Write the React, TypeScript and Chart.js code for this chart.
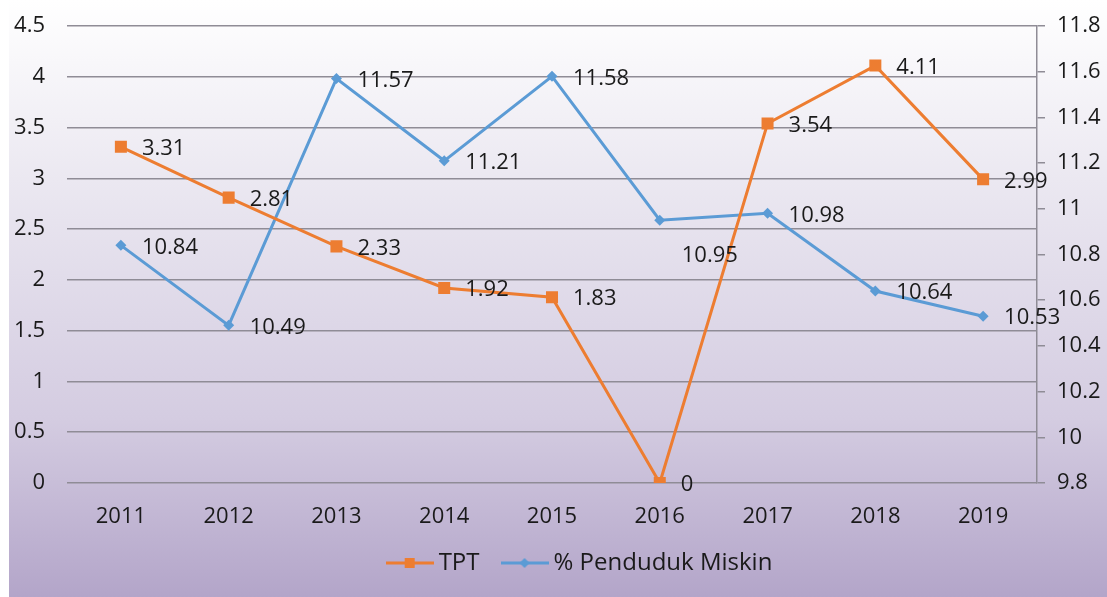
import React, { useEffect, useRef } from "react";
import { Chart, registerables } from "chart.js";

Chart.register(...registerables);

const years = ["2011", "2012", "2013", "2014", "2015", "2016", "2017", "2018", "2019"];
const tptValues = [3.31, 2.81, 2.33, 1.92, 1.83, 0, 3.54, 4.11, 2.99];
const miskinValues = [10.84, 10.49, 11.57, 11.21, 11.58, 10.95, 10.98, 10.64, 10.53];
const tptLabels = ["3.31", "2.81", "2.33", "1.92", "1.83", "0", "3.54", "4.11", "2.99"];
const miskinLabels = ["10.84", "10.49", "11.57", "11.21", "11.58", "10.95", "10.98", "10.64", "10.53"];
const seriesNames = ["TPT", "% Penduduk Miskin"];

const ORANGE = "#ED7D31";
const BLUE = "#5B9BD5";
const TEXT = "#1a1a1a";
const GRID = "#8f8c96";
const FONT = "'Open Sans', 'Noto Sans', sans-serif";

function legendImage(color: string, kind: "square" | "diamond"): HTMLCanvasElement {
  const c = document.createElement("canvas");
  c.width = 48;
  c.height = 14;
  const ctx = c.getContext("2d")!;
  ctx.strokeStyle = color;
  ctx.lineWidth = 3;
  ctx.beginPath();
  ctx.moveTo(0, 7);
  ctx.lineTo(48, 7);
  ctx.stroke();
  ctx.fillStyle = color;
  if (kind === "square") {
    ctx.fillRect(19, 2, 10, 10);
  } else {
    ctx.beginPath();
    ctx.moveTo(24, 2);
    ctx.lineTo(29, 7);
    ctx.lineTo(24, 12);
    ctx.lineTo(19, 7);
    ctx.closePath();
    ctx.fill();
  }
  return c;
}

const bgPlugin = {
  id: "bgGradient",
  beforeDraw(chart: any) {
    const { ctx, width, height } = chart;
    const g = ctx.createLinearGradient(0, 0, 0, height);
    g.addColorStop(0, "#ffffff");
    g.addColorStop(0.3, "#ebe8f1");
    g.addColorStop(0.7, "#d4cce1");
    g.addColorStop(1, "#b3a5c9");
    ctx.save();
    ctx.fillStyle = g;
    ctx.fillRect(0, 0, width, height);
    ctx.restore();
  },
};

// label offsets (dx, dy) relative to the point
const tptOffsets = tptValues.map(() => [21, 2]);
const miskinOffsets = miskinValues.map((_, i) => (i === 5 ? [22, 36] : [21, 2]));

const labelPlugin = {
  id: "pointLabels",
  afterDatasetsDraw(chart: any) {
    const { ctx } = chart;
    const sets = [
      { labels: tptLabels, offsets: tptOffsets },
      { labels: miskinLabels, offsets: miskinOffsets },
    ];
    ctx.save();
    ctx.font = `22px ${FONT}`;
    ctx.fillStyle = TEXT;
    ctx.textAlign = "left";
    ctx.textBaseline = "middle";
    sets.forEach((s, di) => {
      const meta = chart.getDatasetMeta(di);
      meta.data.forEach((pt: any, i: number) => {
        const [dx, dy] = s.offsets[i];
        ctx.fillText(s.labels[i], pt.x + dx, pt.y + dy);
      });
    });
    ctx.restore();
  },
};

export default function App() {
  const ref = useRef<HTMLCanvasElement>(null);
  useEffect(() => {
    const imgs = [legendImage(ORANGE, "square"), legendImage(BLUE, "diamond")];
    const legendPlugin = {
      id: "customLegend",
      afterDraw(chart: any) {
        const { ctx } = chart;
        ctx.save();
        ctx.font = `24px ${FONT}`;
        ctx.fillStyle = TEXT;
        ctx.textBaseline = "middle";
        ctx.textAlign = "left";
        const gapImg = 5;
        const gapItem = 21;
        const widths = seriesNames.map((n) => 48 + gapImg + ctx.measureText(n).width);
        const total = widths.reduce((a, b) => a + b, 0) + gapItem * (seriesNames.length - 1);
        const centerX = 570;
        const cy = chart.chartArea.bottom + 80;
        let x = centerX - total / 2;
        seriesNames.forEach((n, i) => {
          ctx.drawImage(imgs[i], x, cy - 7);
          ctx.fillText(n, x + 48 + gapImg, cy);
          x += widths[i] + gapItem;
        });
        ctx.restore();
      },
    };
    const chart = new Chart(ref.current!, {
      type: "line",
      data: {
        labels: years,
        datasets: [
          {
            label: seriesNames[0],
            data: tptValues,
            borderColor: ORANGE,
            backgroundColor: ORANGE,
            borderWidth: 3,
            pointStyle: "rect",
            pointRadius: 8.5,
            pointBorderWidth: 0,
            yAxisID: "y",
            tension: 0,
          },
          {
            label: seriesNames[1],
            data: miskinValues,
            borderColor: BLUE,
            backgroundColor: BLUE,
            borderWidth: 3,
            pointStyle: "rectRot",
            pointRadius: 5.5,
            pointBorderWidth: 0,
            yAxisID: "y1",
            tension: 0,
          },
        ],
      },
      options: {
        animation: false,
        responsive: true,
        maintainAspectRatio: false,
        layout: { padding: { top: 26, bottom: 66, left: 0, right: 0 } },
        plugins: {
          tooltip: { enabled: false },
          legend: { display: false },
        },
        scales: {
          x: {
            offset: true,
            grid: { display: false, drawTicks: false },
            border: { display: false },
            ticks: { color: TEXT, font: { family: FONT, size: 22 }, padding: 21 },
            afterFit: (s: any) => {
              s.height = 48;
            },
          },
          y: {
            position: "left",
            min: 0,
            max: 4.5,
            ticks: {
              stepSize: 0.5,
              color: TEXT,
              padding: 8,
              font: { family: FONT, size: 22 },
              callback: (v: any) => String(v),
            },
            grid: { color: GRID, lineWidth: 1.5, drawTicks: true, tickLength: 14, tickColor: "rgba(0,0,0,0)" },
            border: { display: false },
            afterFit: (s: any) => {
              s.width = 58;
            },
          },
          y1: {
            position: "right",
            min: 9.8,
            max: 11.8,
            ticks: {
              stepSize: 0.2,
              color: TEXT,
              padding: 12,
              font: { family: FONT, size: 22 },
              callback: (v: any) => String(Math.round(v * 10) / 10),
            },
            grid: { drawOnChartArea: false, drawTicks: true, tickLength: 8, color: GRID, lineWidth: 1.5 },
            border: { display: true, color: GRID, width: 1.5 },
            afterFit: (s: any) => {
              s.width = 70;
            },
          },
        },
      },
      plugins: [bgPlugin, labelPlugin, legendPlugin],
    });
    return () => chart.destroy();
  }, []);
  return (
    <div style={{ position: "fixed", left: 9, top: 0, width: 1098, height: 597 }}>
      <canvas ref={ref} />
    </div>
  );
}
